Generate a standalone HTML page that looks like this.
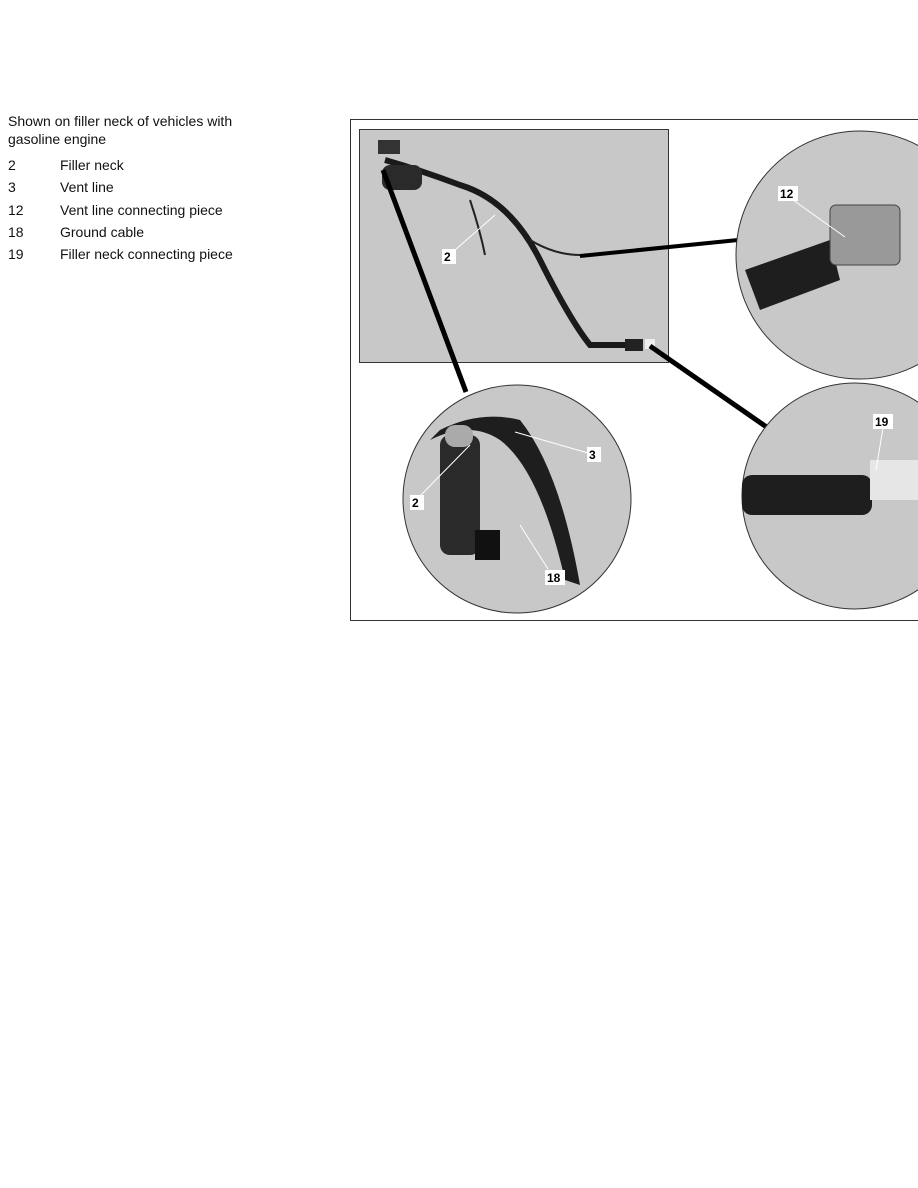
<!DOCTYPE html>
<html><head><style>
body{margin:0;width:918px;height:1188px;background:#fff;position:relative;font-family:"Liberation Sans",Arial,sans-serif;font-size:14px;color:#111;overflow:hidden}
.t{position:absolute;left:8px;line-height:18px}
.n{position:absolute;left:8px}
.d{position:absolute;left:60px}
</style></head><body>
<div class="t" style="top:112px">Shown on filler neck of vehicles with<br>gasoline engine</div>
<div class="n" style="top:157px">2</div><div class="d" style="top:157px">Filler neck</div>
<div class="n" style="top:179px">3</div><div class="d" style="top:179px">Vent line</div>
<div class="n" style="top:202px">12</div><div class="d" style="top:202px">Vent line connecting piece</div>
<div class="n" style="top:224px">18</div><div class="d" style="top:224px">Ground cable</div>
<div class="n" style="top:246px">19</div><div class="d" style="top:246px">Filler neck connecting piece</div>
<svg width="918" height="1188" style="position:absolute;left:0;top:0" font-family="Liberation Sans, Arial, sans-serif" font-weight="bold" font-size="12">
<rect x="350.5" y="119.5" width="580" height="501" fill="#fff" stroke="#333" stroke-width="1"/>
<rect x="359.5" y="129.5" width="309" height="233" fill="#c8c8c8" stroke="#333"/>
<path d="M385 160 Q420 170 460 185 Q510 200 540 260 Q570 320 590 345 L630 345" fill="none" stroke="#1a1a1a" stroke-width="6"/>
<path d="M470 200 Q480 230 485 255" fill="none" stroke="#222" stroke-width="2"/>
<path d="M530 240 Q555 255 580 255" fill="none" stroke="#222" stroke-width="2"/>
<rect x="378" y="140" width="22" height="14" fill="#333"/>
<rect x="382" y="165" width="40" height="25" rx="8" fill="#2a2a2a"/>
<rect x="625" y="339" width="18" height="12" fill="#222"/>
<rect x="645" y="339" width="10" height="10" fill="#eee"/>
<line x1="383" y1="170" x2="466" y2="392" stroke="#000" stroke-width="5"/>
<line x1="580" y1="256" x2="738" y2="240" stroke="#000" stroke-width="4"/>
<line x1="650" y1="346" x2="768" y2="428" stroke="#000" stroke-width="5"/>
<defs><clipPath id="cf"><rect x="351" y="120" width="567" height="500"/></clipPath></defs>
<g clip-path="url(#cf)">
<circle cx="860" cy="255" r="124" fill="#c8c8c8" stroke="#333"/>
<path d="M745 270 L830 240 L840 280 L760 310 Z" fill="#1e1e1e"/>
<rect x="830" y="205" width="70" height="60" rx="6" fill="#999" stroke="#444"/>
<circle cx="855" cy="496" r="113" fill="#c8c8c8" stroke="#333"/>
<rect x="742" y="475" width="130" height="40" rx="10" fill="#1e1e1e"/>
<rect x="870" y="460" width="60" height="40" fill="#e6e6e6"/>
<circle cx="517" cy="499" r="114" fill="#c8c8c8" stroke="#333"/>
</g>
<path d="M430 440 Q470 420 500 440 Q540 470 565 580 L580 585 Q560 470 520 420 Q480 410 440 430Z" fill="#1e1e1e"/>
<rect x="440" y="435" width="40" height="120" rx="10" fill="#2a2a2a"/>
<rect x="475" y="530" width="25" height="30" fill="#111"/>
<rect x="445" y="425" width="28" height="22" rx="10" fill="#aaa"/>
<rect x="442" y="249" width="14" height="15" fill="#fff"/><text x="444" y="261">2</text>
<line x1="455" y1="250" x2="495" y2="215" stroke="#fff" stroke-width="1"/>
<rect x="778" y="186" width="20" height="15" fill="#fff"/><text x="780" y="198">12</text>
<line x1="793" y1="200" x2="845" y2="237" stroke="#fff"/>
<rect x="873" y="414" width="20" height="15" fill="#fff"/><text x="875" y="426">19</text>
<line x1="883" y1="428" x2="876" y2="470" stroke="#fff"/>
<rect x="587" y="447" width="14" height="15" fill="#fff"/><text x="589" y="459">3</text>
<line x1="588" y1="453" x2="515" y2="432" stroke="#fff"/>
<rect x="410" y="495" width="14" height="15" fill="#fff"/><text x="412" y="507">2</text>
<line x1="420" y1="496" x2="470" y2="445" stroke="#fff"/>
<rect x="545" y="570" width="20" height="15" fill="#fff"/><text x="547" y="582">18</text>
<line x1="548" y1="569" x2="520" y2="525" stroke="#fff"/>
</svg>
</body></html>
